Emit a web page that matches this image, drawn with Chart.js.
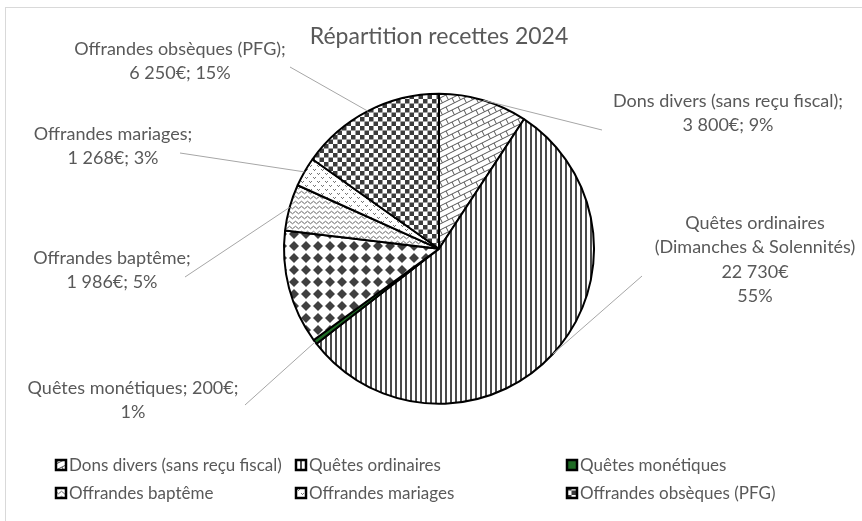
<!DOCTYPE html>
<html>
<head>
<meta charset="utf-8">
<script src="https://cdn.jsdelivr.net/npm/chart.js@4"></script>
<style>
    html, body { margin: 0; padding: 0; background: #fff; }
    canvas { display: block; }
</style>
</head>
<body>
<canvas id="recettesChart" width="862" height="521"></canvas>
<script>
// categories in the order the pie goes round, clockwise from 12 o'clock
const categories = [
    'Dons divers (sans reçu fiscal)',
    'Quêtes ordinaires',
    'Quêtes monétiques',
    'Autres recettes',
    'Offrandes baptême',
    'Offrandes mariages',
    'Offrandes obsèques (PFG)'
];
const amounts = [3800, 22730, 200, 4900, 1986, 1268, 6250];
// percentages as printed on the chart
const shownPercents = [9, 55, 1, null, 5, 3, 15];
const labelNames = [
    ['Dons divers (sans reçu fiscal)'],
    ['Quêtes ordinaires', '(Dimanches & Solennités)'],
    ['Quêtes monétiques'],
    [],
    ['Offrandes baptême'],
    ['Offrandes mariages'],
    ['Offrandes obsèques (PFG)']
];
const legendOrder = [0, 1, 2, 4, 5, 6];

const GREY_TEXT = '#595959';
const FONT = 'Lato, "Open Sans", sans-serif';

const canvas = document.getElementById('recettesChart');
const ctx = canvas.getContext('2d');

function makePattern(w, h, draw) {
    const c = document.createElement('canvas');
    c.width = w;
    c.height = h;
    const g = c.getContext('2d');
    g.fillStyle = '#fff';
    g.fillRect(0, 0, w, h);
    draw(g, w, h);
    return ctx.createPattern(c, 'repeat');
}

// shingles for "dons divers"
const shinglePattern = makePattern(12, 12, (g) => {
    g.strokeStyle = '#555';
    g.lineWidth = 1;
    for (let c = -6; c <= 24; c += 6) {
        g.beginPath();
        g.moveTo(0, c);
        g.lineTo(12, c - 6);
        g.stroke();
        const tx = (c % 12 === 0) ? 2 : 8;
        for (const ox of [-12, 0, 12]) {
            const x0 = tx + ox;
            const y0 = c - 0.5 * tx;
            g.beginPath();
            g.moveTo(x0, y0);
            g.lineTo(x0 + 2.4, y0 + 4.8);
            g.stroke();
        }
    }
});

const verticalPattern = makePattern(5, 5, (g) => {
    g.fillStyle = '#4a4a4a';
    g.fillRect(0, 0, 2, 5);
});

const diamondPattern = makePattern(12, 12, (g) => {
    g.fillStyle = '#404040';
    g.beginPath();
    g.moveTo(6, 1);
    g.lineTo(11, 6);
    g.lineTo(6, 11);
    g.lineTo(1, 6);
    g.closePath();
    g.fill();
});

const wavePattern = makePattern(6, 5, (g) => {
    g.strokeStyle = '#666';
    g.lineWidth = 1;
    g.beginPath();
    g.moveTo(0, 2.5);
    g.quadraticCurveTo(1.5, 0, 3, 2.5);
    g.quadraticCurveTo(4.5, 5, 6, 2.5);
    g.stroke();
});

const confettiPattern = makePattern(8, 8, (g) => {
    g.fillStyle = '#777';
    g.fillRect(1, 1, 1, 1);
    g.fillRect(3, 1, 1, 1);
    g.fillRect(2, 2, 1, 1);
    g.fillRect(5, 5, 1, 1);
    g.fillRect(7, 5, 1, 1);
    g.fillRect(6, 6, 1, 1);
});

const checkerPattern = makePattern(9, 9, (g) => {
    g.fillStyle = '#3c3c3c';
    g.fillRect(0, 0, 4.5, 4.5);
    g.fillRect(4.5, 4.5, 4.5, 4.5);
});

const sliceFills = [
    shinglePattern, verticalPattern, '#1f6b25', diamondPattern,
    wavePattern, confettiPattern, checkerPattern
];

// where each outside label sits (text centre, first line y, leader line start)
const labelLayout = [
    { x: 728, y: 101, lineX: 602, lineY: 130, wrap: 'two' },
    { x: 755, y: 223, lineX: 642, lineY: 276, wrap: 'stack' },
    { x: 133, y: 388, lineX: 245, lineY: 405, wrap: 'late' },
    null,
    { x: 112, y: 258, lineX: 185, lineY: 277, wrap: 'two' },
    { x: 113, y: 134, lineX: 180, lineY: 153, wrap: 'two' },
    { x: 180, y: 49, lineX: 290, lineY: 67, wrap: 'two' }
];

function euro(n) {
    return String(n).replace(/\B(?=(\d{3})+(?!\d))/g, ' ') + '€';
}

function labelLines(i) {
    const name = labelNames[i];
    const pct = shownPercents[i] + '%';
    const wrap = labelLayout[i].wrap;
    if (wrap === 'stack') return [...name, euro(amounts[i]), pct];
    if (wrap === 'late') return [name[0] + '; ' + euro(amounts[i]) + ';', pct];
    return [name[0] + ';', euro(amounts[i]) + '; ' + pct];
}

const outsideLabels = {
    id: 'outsideLabels',
    beforeDraw(chart) {
        const c = chart.ctx;
        c.save();
        c.strokeStyle = '#d9d9d9';
        c.lineWidth = 1;
        c.strokeRect(5.5, 7.5, 900, 600);
        c.restore();
    },
    afterDatasetsDraw(chart) {
        const c = chart.ctx;
        const arcs = chart.getDatasetMeta(0).data;
        c.save();
        arcs.forEach((arc, i) => {
            const lay = labelLayout[i];
            if (!lay) return;
            const mid = (arc.startAngle + arc.endAngle) / 2;
            const ex = arc.x + Math.cos(mid) * arc.outerRadius;
            const ey = arc.y + Math.sin(mid) * arc.outerRadius;
            c.strokeStyle = '#a6a6a6';
            c.lineWidth = 1;
            c.beginPath();
            c.moveTo(lay.lineX, lay.lineY);
            c.lineTo(ex, ey);
            c.stroke();

            c.fillStyle = GREY_TEXT;
            c.font = '18px ' + FONT;
            c.textAlign = 'center';
            c.textBaseline = 'middle';
            labelLines(i).forEach((line, k) => {
                c.fillText(line, lay.x, lay.y + k * 24.5);
            });
        });

        // legend, three columns
        const colX = [56, 296, 567];
        const rowY = [465, 493];
        c.font = '17px ' + FONT;
        c.textAlign = 'left';
        c.textBaseline = 'middle';
        legendOrder.forEach((idx, n) => {
            const bx = colX[n % 3];
            const by = rowY[Math.floor(n / 3)];
            c.fillStyle = sliceFills[idx];
            c.fillRect(bx, by - 5, 10, 10);
            c.strokeStyle = '#000';
            c.lineWidth = 2.5;
            c.strokeRect(bx, by - 5, 10, 10);
            c.fillStyle = GREY_TEXT;
            c.fillText(categories[idx], bx + 13, by + 1);
        });
        c.restore();
    }
};

const recettesChart = new Chart(ctx, {
    type: 'pie',
    data: {
        labels: categories,
        datasets: [{
            data: amounts,
            backgroundColor: sliceFills,
            borderColor: '#000',
            borderWidth: 2
        }]
    },
    options: {
        responsive: false,
        animation: false,
        layout: {
            padding: { top: 23, bottom: 116, left: 283, right: 267 }
        },
        plugins: {
            legend: { display: false },
            tooltip: { enabled: false },
            title: {
                display: true,
                text: 'Répartition recettes 2024',
                color: GREY_TEXT,
                font: { family: FONT, size: 23, weight: 'normal' },
                padding: { top: 0, bottom: 42 }
            }
        }
    },
    plugins: [outsideLabels]
});
</script>
</body>
</html>
